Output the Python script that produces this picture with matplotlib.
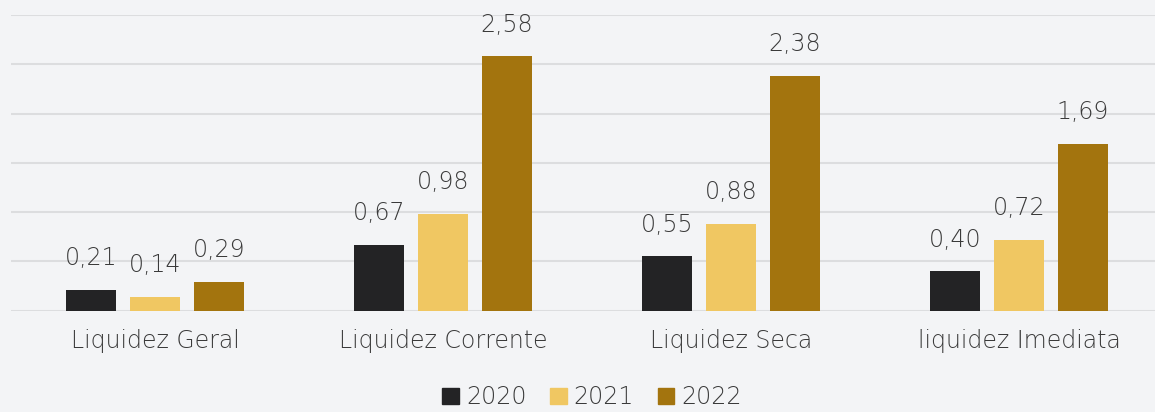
import numpy as np
import matplotlib
matplotlib.use("Agg")
from matplotlib import pyplot as plt
from matplotlib.patches import Patch

categories = ["Liquidez Geral", "Liquidez Corrente", "Liquidez Seca", "liquidez Imediata"]
years = ["2020", "2021", "2022"]
v2020 = [0.21, 0.67, 0.55, 0.40]
v2021 = [0.14, 0.98, 0.88, 0.72]
v2022 = [0.29, 2.58, 2.38, 1.69]
colors = ["#232325", "#f0c762", "#a3740e"]

plt.rcParams['font.family'] = ['DejaVu Sans']
plt.rcParams['font.weight'] = 200
bg = "#f3f4f6"
txt = "#3a3a3a"

fig = plt.figure(figsize=(11.55, 4.12), dpi=100, facecolor=bg)
ax = fig.add_axes([11 / 1155, 101.3 / 412, 1144 / 1155, 295.7 / 412], facecolor=bg)

x = np.arange(len(categories))
w = 50 / 288
step = 64 / 288
for i, (vals, c) in enumerate(zip([v2020, v2021, v2022], colors)):
    pos = x + (i - 1) * step
    ax.bar(pos, vals, width=w, color=c, zorder=3)
    for px, v in zip(pos, vals):
        ax.text(px, v + 0.2, f"{v:.2f}".replace(".", ","), ha="center", va="bottom",
                fontsize=17, color=txt)

ax.set_xlim(-0.5, -0.5 + 1144 / 288)
ax.set_ylim(0, 3)
ax.set_yticks(np.arange(0, 3.01, 0.5))
ax.yaxis.grid(True, color="#dcdddf", linewidth=1.5, zorder=0)
ax.tick_params(axis="y", left=False, labelleft=False)
ax.tick_params(axis="x", bottom=False, pad=10, labelsize=17, labelcolor=txt)
ax.set_xticks(x)
ax.set_xticklabels(categories)
for s in ax.spines.values():
    s.set_visible(False)

handles = [Patch(color=c, label=y) for c, y in zip(colors, years)]
fig.legend(handles=handles, loc="lower center", bbox_to_anchor=(592 / 1155, -0.045), ncol=3,
           frameon=False, fontsize=17, labelcolor=txt, handlelength=0.7, handleheight=0.7,
           handletextpad=0.3, columnspacing=1.0)

fig.savefig("out.png", dpi=100, facecolor=bg)
